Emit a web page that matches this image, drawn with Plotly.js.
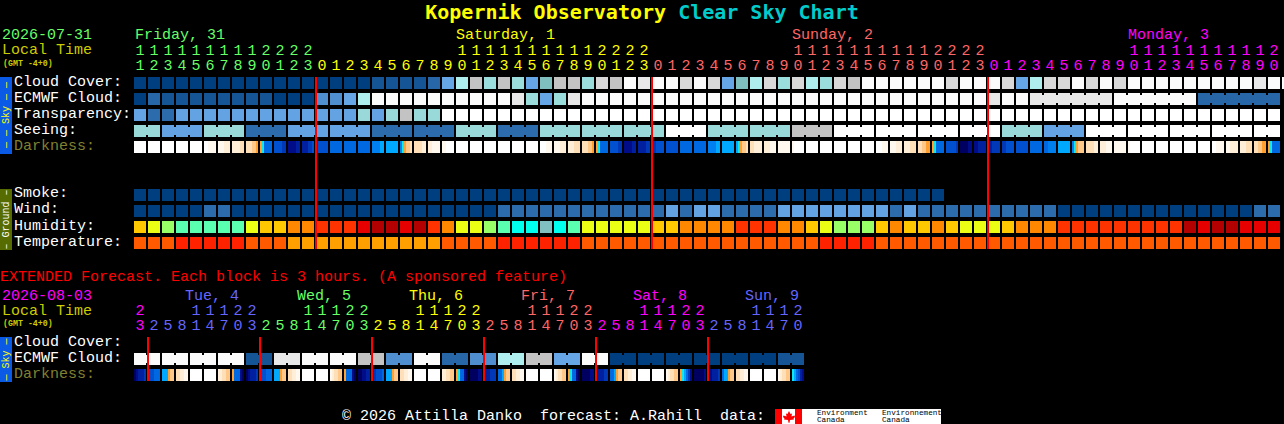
<!DOCTYPE html>
<html><head><meta charset="utf-8">
<script src="https://cdn.plot.ly/plotly-3.0.1.min.js"></script>
<style>html,body{margin:0;padding:0;background:#000;overflow:hidden}#c{width:1284px;height:424px}</style>
</head><body><div id="c"></div>
<script>
// ---------- values ----------
const mainHours=[11,12,13,14,15,16,17,18,19,20,21,22,23,
0,1,2,3,4,5,6,7,8,9,10,11,12,13,14,15,16,17,18,19,20,21,22,23,
0,1,2,3,4,5,6,7,8,9,10,11,12,13,14,15,16,17,18,19,20,21,22,23,
0,1,2,3,4,5,6,7,8,9,10,11,12,13,14,15,16,17,18,19,20];
const extHours=[23,2,5,8,11,14,17,20,23,2,5,8,11,14,17,20,23,2,5,8,11,14,17,20,23,2,5,8,11,14,17,20,23,2,5,8,11,14,17,20,23,2,5,8,11,14,17,20];
const cloudCover=[100,100,100,100,100,100,100,100,100,100,100,100,100,100,100,100,100,
90,90,90,90,80,50,20,10,30,10,30,50,40,10,10,30,5,10,0,2,0,0,5,0,5,50,40,20,5,30,5,20,30,5,10,
0,0,0,0,0,0,5,0,0,0,5,50,20,5,5,0,5,0,5,0,0,0,0,0,0,0,0,0,2,0,0];
const ecmwfCloud=[100,80,90,90,90,90,90,90,90,90,100,100,100,60,60,50,20,
0,0,0,0,0,0,0,0,0,0,2,30,50,30,2,
0,0,0,0,0,0,0,0,0,0,0,0,0,0,0,0,0,0,0,0,0,0,0,0,0,0,0,0,0,
2,0,0,2,2,2,2,2,2,0,0,0,0,0,0,80,80,80,80,80,80];
const extEcmwfCloud=[0,0,0,0,90,2,0,0,10,60,0,80,60,20,10,50,0,100,100,100,100,100,100,90];
const transparency=[3,2,2,3,3,3,3,3,3,3,3,3,3,3,3,3,4,3,4,5,4,4,
6,6,6,6,6,6,6,6,6,6,6,6,6,6,6,6,6,6,6,6,6,6,6,6,6,6,6,6,6,6,6,6,6,6,6,6,6,6,6,6,6,6,6,6,6,6,6,6,6,6,6,6,6,6,6,6,6,6,6,6];
const seeingGroups=[4,3,4,2,3,3,2,2,4,2,4,4,4,6,4,4,5,6,6,6,6,4,3,6,6,6,6,6];
const smoke=[0,0,0,0,0,0,0,0,0,0,0,0,0,0,0,0,0,0,0,0,0,0,0,0,0,0,0,0,0,0,0,0,0,0,0,0,0,0,0,0,0,0,0,0,0,0,0,0,0,0,0,0,0,0,0,0,0,0];
const wind=[0,0,0,0,0,1,1,0,0,0,0,0,0,0,0,0,0,0,0,0,0,0,0,0,0,0,1,1,1,1,1,1,1,1,1,1,1,1,2,1,2,2,1,1,1,1,2,2,2,2,2,2,2,2,1,2,1,1,1,1,1,1,1,1,1,1,0,0,0,0,0,0,0,0,0,0,0,0,0,0,1,1];
const humidity=[65,60,55,50,50,50,50,50,60,65,65,70,70,75,75,75,80,85,85,80,85,75,70,60,60,55,50,45,45,40,45,50,60,60,60,60,60,65,65,70,70,70,70,75,75,75,70,70,65,60,55,55,55,65,70,65,65,70,65,60,60,60,65,70,70,70,75,75,75,75,75,75,75,75,75,85,80,85,85,80,80,80];
const temperature=[25,25,25,30,30,30,30,30,25,25,25,20,20,20,20,20,20,20,20,20,20,20,25,25,25,25,30,30,30,30,30,30,25,25,25,25,25,25,25,25,25,25,25,25,25,25,25,25,25,30,30,30,30,25,25,25,25,25,25,25,25,25,25,25,25,25,25,25,25,25,25,25,25,25,25,25,25,25,25,25,25,25];
const darkness=["WWWWWW","WWWWWW","WWWWWW","WWWWWW","WWWWWW","WWIIII","IIIPPP","PPPPQQ","QQQRRO","OCBBBB","EEEEFF","HHHHGG","GGGFFE",
"FEEEEE","BBBBBB","BBBBBB","BBBBBB","MMMMLL","LLLLLL","MCORRQ","QQQQPP","PPIIII","IIWWWW","WWWWWW","WWWWWW","WWWWWW","WWWWWW","WWWWWW","WWWWWW",
"WWWIII","IIIPPP","PPPQQQ","QQQRRO","OCBBBB","EEEEFF","HHHHGG","GGGGFF",
"FFEEEE","EEEEEE","BBBBBB","BBBBBB","MMMMLL","LLLLLL","LCORRQ","QQPPPP","PPPIII","IIIIII","IWWWWW","WWWWWW","WWWWWW","WWWWWW","WWWWWW","WWWWWW",
"WWWIII","IIIPPP","PPPQQQ","QQRROO","OCBBBB","EEEEEF","NNNNHH","HHGGGG",
"GGFFFF","FFEEEE","EEEEEE","BBBBBB","BBMMMM","LLLLLL","MCORRR","QQQQPP","PPPIII","IIIIII","IWWWWW","WWWWWW","WWWWWW","WWWWWW","WWWWWW","WWWWWW",
"WWIIII","IIPPPP","PPPQQQ","QQRROO","OCBBBB"];
const extDarkness=["NHGGGF","EEEBBB","LLLORR","QQPPII","WWWWWW","WWWWWW","PPQQRR","OBBBHN",
"NHGGGF","EEEBBB","LLLORR","QQPPII","WWWWWW","WWWWWW","IPQQRR","OBBBHN",
"NNHHGG","GFEEEB","LLLORR","QQPPII","WWWWWW","WWWWWW","PPQQRR","OCBBHN",
"NNNNHH","GGGFFF","BBLORR","QQPPII","WWWWWW","WWWWWW","IPQQRR","OCBBHN",
"NNNNHH","HGGGFF","BBLORR","QQPPII","WWWWWW","WWWWWW","IPQQRR","OCLBFH",
"NNNNNH","HHGGGF","BLLORR","QQPPII","WWWWWW","WWWWWW","IPQQRR","CLBEGH"];
const midnights=[13,37,61];
const extMidnights=[1,9,17,25,33,41];
const rowLabels=["Cloud Cover:","ECMWF Cloud:","Transparency:","Seeing:","Darkness:","Smoke:","Wind:","Humidity:","Temperature:"];
const dayLabels=["Friday, 31","Saturday, 1","Sunday, 2","Monday, 3"];
const extDayLabels=["Tue, 4","Wed, 5","Thu, 6","Fri, 7","Sat, 8","Sun, 9"];

// ---------- palettes ----------
const cloudColors={0:"#fbfbfb",2:"#e8e8e8",5:"#d8d8d8",10:"#c3c3c3",20:"#aeeeee",30:"#9bdddd",40:"#7fbfbf",50:"#66a6e6",60:"#4f8fcf",70:"#3b7bbb",80:"#2767a7",90:"#155595",100:"#003f7f"};
const skyColors={1:"#003f7f",2:"#2c6cac",3:"#63a3e3",4:"#99d9d9",5:"#c3c3c3",6:"#ffffff"};
const windColors={0:"#003f7f",1:"#2c6cac",2:"#63a3e3"};
const humidityColors={40:"#80c0c0",45:"#00ffee",50:"#5affb0",55:"#99ff66",60:"#eaff14",65:"#ffc800",70:"#ff8800",75:"#ff3300",80:"#e60000",85:"#b30000"};
const tempColors={20:"#ffa000",25:"#ff5a00",30:"#ff2200"};
const darkColors={W:"#ffffff",I:"#fff8ee",P:"#ffeed8",Q:"#ffdfb8",R:"#ffc888",O:"#ffa030",C:"#10e8f0",L:"#00a8ff",M:"#0080f0",B:"#0068e0",E:"#0050d0",F:"#0038b8",G:"#0020a0",H:"#000c88",N:"#000060"};
const dayColors=["#66ff66","#ffff00","#ff6666","#ff00ff","#6666ff"];
const MONO="Liberation Mono, monospace";

// ---------- scales: 1 x unit = one 14px column, 1 y unit = one 16px row ----------
const W=1284,H=424,CW=14,RH=16;
const pxX=p=>(p-140)/CW, pxY=p=>(p-83)/RH;
const ROW={cloud:0,ecmwf:1,transp:2,seeing:3,dark:4,smoke:7,wind:8,hum:9,temp:10,xCloud:16.25,xEcmwf:17.25,xDark:18.25};
const cellW=12/CW, cellH=12/RH, traces=[];

function blockTrace(values,palette,row,offset){
  offset=offset||0;
  traces.push({type:"bar",x:values.map((_,i)=>i+offset),y:values.map(()=>cellH),
    base:values.map(()=>row-cellH/2),width:values.map(()=>cellW),
    marker:{color:values.map(v=>palette[v]),line:{width:0}},hoverinfo:"skip"});
}
function bridgeTrace(cols,colors,row){
  traces.push({type:"bar",x:cols.map(c=>c+0.5),y:cols.map(()=>8/RH),base:cols.map(()=>row-4/RH),
    width:cols.map(()=>2/CW),marker:{color:colors,line:{width:0}},hoverinfo:"skip"});
}
function stripTrace(strings,row){
  const xs=[],cs=[];
  strings.forEach((s,i)=>{[...s].forEach((ch,k)=>{xs.push(i+(k-2.5)*2/CW);cs.push(darkColors[ch]);});});
  traces.push({type:"bar",x:xs,y:xs.map(()=>cellH),base:xs.map(()=>row-cellH/2),width:xs.map(()=>2/CW),
    marker:{color:cs,line:{width:0}},hoverinfo:"skip"});
}
// main rows
blockTrace(cloudCover,cloudColors,ROW.cloud);
blockTrace(ecmwfCloud,cloudColors,ROW.ecmwf);
blockTrace(transparency,skyColors,ROW.transp);
const seeing=[];seeingGroups.forEach((v,g)=>{const n=(g===0||g===seeingGroups.length-1)?2:3;for(let k=0;k<n;k++)seeing.push(v);});
blockTrace(seeing,skyColors,ROW.seeing);
{const b=[];for(let i=0;i<seeing.length-1;i++)if((i+1)%3!==2)b.push(i);
 bridgeTrace(b,b.map(i=>skyColors[seeing[i]]),ROW.seeing);}
{const b=[];for(let i=64;i<ecmwfCloud.length-1;i++)if(i!==69&&i!==75)b.push(i);
 bridgeTrace(b,b.map(i=>cloudColors[ecmwfCloud[i]]),ROW.ecmwf);}
stripTrace(darkness,ROW.dark);
blockTrace(smoke,{0:"#003f7f"},ROW.smoke);
blockTrace(wind,windColors,ROW.wind);
blockTrace(humidity,humidityColors,ROW.hum);
blockTrace(temperature,tempColors,ROW.temp);
// extended rows
const extCloudCols=[];extEcmwfCloud.forEach(v=>{extCloudCols.push(v,v);});
blockTrace(extCloudCols,cloudColors,ROW.xEcmwf);
{const b=[];extEcmwfCloud.forEach((v,i)=>b.push(i*2));
 bridgeTrace(b,extEcmwfCloud.map(v=>cloudColors[v]),ROW.xEcmwf);}
stripTrace(extDarkness,ROW.xDark);

// hour digits
function digitTraces(hours,startDayAt,colorIdx,yTens,yUnits){
  let d=colorIdx;const col=hours.map((h,i)=>{if(i>0&&h===startDayAt)d=(d+1)%5;return dayColors[d];});
  const tensX=[],tensT=[],tensC=[];
  hours.forEach((h,i)=>{if(h>=10){tensX.push(i);tensT.push(String(Math.floor(h/10)));tensC.push(col[i]);}});
  traces.push({type:"scatter",mode:"text",x:tensX,y:tensX.map(()=>yTens),text:tensT,
    textfont:{family:MONO,size:15,color:tensC},textposition:"middle center",hoverinfo:"skip"});
  traces.push({type:"scatter",mode:"text",x:hours.map((_,i)=>i),y:hours.map(()=>yUnits),text:hours.map(h=>String(h%10)),
    textfont:{family:MONO,size:15,color:col},textposition:"middle center",hoverinfo:"skip"});
}
digitTraces(mainHours,0,0,pxY(51),pxY(66));
digitTraces(extHours,2,3,pxY(311),pxY(326));

// ---------- annotations ----------
const ann=[];
function lab(text,x,y,color,size,extra){
  ann.push(Object.assign({text,xref:"paper",yref:"paper",x:(x-1)/W,y:1-(y+1)/H,xanchor:"left",yanchor:"middle",showarrow:false,borderpad:0,
    font:{family:MONO,size:size||15,color}},extra||{}));
}
const LG="#66ff66",LT="#cccc00",OL="#808030";
lab("2026-07-31",2,35,LG);lab("Local Time",2,50,LT);lab("<b>(GMT -4+0)</b>",3,62,LT,8.3);
const dayX=[135,456,792,1128],dayC=[0,1,2,3];
dayLabels.forEach((t,i)=>lab(t,dayX[i],35,dayColors[dayC[i]]));
const rowY=[81,97,113,129,145,193,209,225,241];
rowLabels.forEach((t,i)=>lab(t,14,rowY[i],i===4?OL:"#ffffff"));
lab("EXTENDED Forecast. Each block is 3 hours. (A sponsored feature)",0,276,"#ff0000");
lab("2026-08-03",2,295,"#ff00ff");lab("Local Time",2,310,LT);lab("<b>(GMT -4+0)</b>",3,322,LT,8.3);
const extDayX=[185,297,409,521,633,745],extDayC=[4,0,1,2,3,4];
extDayLabels.forEach((t,i)=>lab(t,extDayX[i],295,dayColors[extDayC[i]]));
lab("Cloud Cover:",14,341,"#ffffff");lab("ECMWF Cloud:",14,357,"#ffffff");lab("Darkness:",14,373,OL);
lab("\u00a9 2026 Attilla Danko\u00a0\u00a0forecast: A.Rahill\u00a0\u00a0data:",342,415,"#ffffff");
function vlab(text,y,color){ann.push({text,xref:"paper",yref:"paper",x:6/W,y:1-y/H,xanchor:"center",yanchor:"middle",textangle:-90,showarrow:false,borderpad:0,font:{family:MONO,size:10,color}});}
vlab("\u2014 \u2014 Sky \u2014 \u2014",115,"#ffff00");vlab("\u2013 Ground \u2013",219.5,"#ffffff");vlab("\u2014 Sky \u2014",359.5,"#ffff00");
lab("Environment",817,412,"#000000",7.7);lab("Canada",817,419,"#000000",7.7);
lab("Environnement",882,412,"#000000",7.7);lab("Canada",882,419,"#000000",7.7);

// ---------- shapes ----------
function rect(x0,y0,x1,y1,color,layer){return {type:"rect",xref:"paper",yref:"paper",x0:x0/W,x1:x1/W,y0:1-y1/H,y1:1-y0/H,fillcolor:color,line:{width:0},layer:layer||"below"};}
const shapes=[rect(0,77,12,154,"#0a5ae6"),rect(0,189,12,250,"#566b00"),rect(0,337,12,382,"#0a5ae6"),
  rect(775,409,941,424,"#ffffff"),rect(775,409,782,424,"#ff0000"),rect(795,409,802,424,"#ff0000")];
const leaf=[[789,411],[790.5,414],[792,413.5],[791.5,416.5],[794.5,415.5],[795,417],[793.5,418.5],[794,419.5],[790,420],[789.5,422.8],[788.5,422.8],[788,420],[784,419.5],[784.5,418.5],[783,417],[783.5,415.5],[786.5,416.5],[786,413.5],[787.5,414]];
shapes.push({type:"path",xref:"paper",yref:"paper",path:"M"+leaf.map(p=>(p[0]/W)+","+(1-p[1]/H)).join("L")+"Z",fillcolor:"#ff0000",line:{width:0},layer:"below"});
const mOff=-6/CW;
midnights.forEach(c=>shapes.push({type:"line",xref:"x",yref:"y",x0:c+mOff,x1:c+mOff,y0:pxY(77),y1:pxY(249),line:{color:"#ff0000",width:2},layer:"above"}));
extMidnights.forEach(c=>shapes.push({type:"line",xref:"x",yref:"y",x0:c+mOff,x1:c+mOff,y0:pxY(337),y1:pxY(381),line:{color:"#ff0000",width:2},layer:"above"}));

const layout={width:W,height:H,margin:{l:0,r:0,t:0,b:0,pad:0},paper_bgcolor:"#000",plot_bgcolor:"rgba(0,0,0,0)",
  showlegend:false,barmode:"overlay",bargap:0,
  title:{text:'<b>Kopernik Observatory <span style="fill:#00cccc">Clear Sky Chart</span></b>',x:0.5,xanchor:"center",xref:"paper",y:1-12/H,yanchor:"middle",yref:"container",font:{family:"DejaVu Sans Mono, monospace",size:20,color:"#ffff00"}},
  xaxis:{type:"linear",range:[pxX(0),pxX(W)],visible:false,fixedrange:true},
  yaxis:{type:"linear",range:[pxY(H),pxY(0)],visible:false,fixedrange:true},
  annotations:ann,shapes};
Plotly.newPlot("c",traces,layout,{staticPlot:true,displayModeBar:false});
</script></body></html>
